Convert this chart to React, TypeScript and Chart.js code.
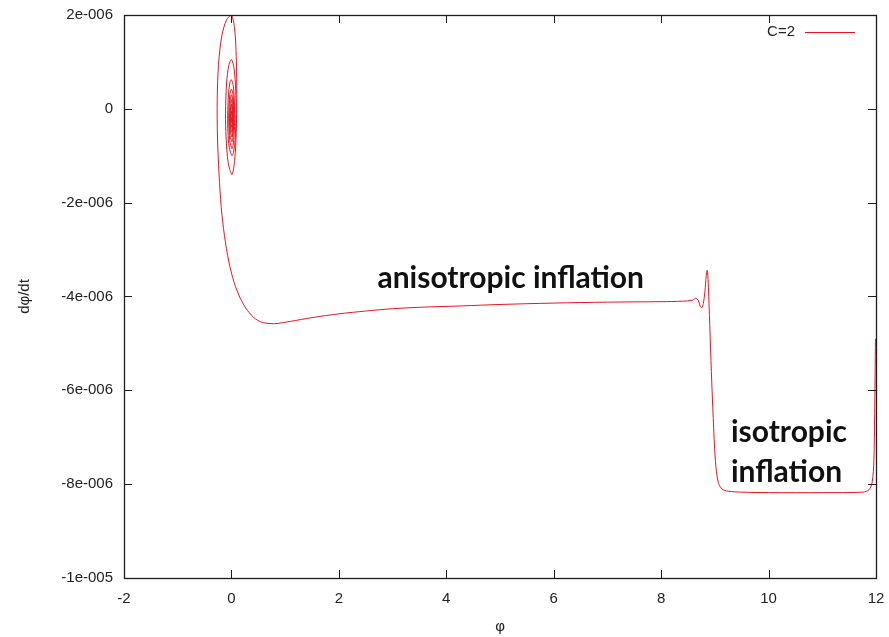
import React, { useEffect, useRef } from "react";
import { Chart, registerables } from "chart.js";

Chart.register(...registerables);

const seriesLabel = "C=2";

// Trajectory in phase space, in time order (phi, dphi/dt)
const phiValues = [
  11.99, 11.975, 11.96, 11.93, 11.87, 11.75, 11.0, 10.0, 9.5, 9.25,
  9.13, 9.06, 9.01, 8.97, 8.935, 8.905, 8.88, 8.865, 8.855, 8.84,
  8.815, 8.785, 8.755, 8.725, 8.69, 8.64, 8.58, 8.4, 8.0, 7.0,
  6.0, 5.0, 4.3, 3.5, 3.0, 2.5, 2.0, 1.5, 1.1, 0.8,
  0.6, 0.45, 0.3, 0.17, 0.05, -0.05, -0.13, -0.19, -0.23, -0.26,
  -0.265, -0.24, -0.18, -0.09, 0.0, 0.06, 0.09, 0.1, 0.09, 0.06,
  0.01, -0.06, -0.1, -0.11, -0.09, -0.05, 0.0, 0.05, 0.08, 0.085,
  0.07, 0.04, 0.01, -0.04, -0.065, -0.07, -0.055, -0.03, 0.0, 0.035,
  0.055, 0.06, 0.05, 0.03, 0.01, -0.03, -0.05, -0.03, 0.0, 0.03,
  0.045, 0.03, 0.01, -0.025, -0.035, -0.02, 0.0, 0.025, 0.035, 0.025,
  0.01, -0.02, -0.025, -0.01, 0.005, 0.02, 0.028, 0.02, 0.01, -0.01,
  -0.015, -0.005, 0.005, 0.015, 0.02, 0.015, 0.008, -0.005, -0.008, 0.003,
  0.012, 0.01, 0.003, 0.005,
];

const dphiValues = [
  -4.9e-6, -6.5e-6, -7.5e-6, -7.95e-6, -8.12e-6, -8.17e-6, -8.18e-6, -8.18e-6, -8.17e-6, -8.15e-6,
  -8.1e-6, -7.95e-6, -7.5e-6, -6.6e-6, -5.6e-6, -4.6e-6, -3.8e-6, -3.48e-6, -3.44e-6, -3.55e-6,
  -3.9e-6, -4.15e-6, -4.24e-6, -4.2e-6, -4.08e-6, -4.04e-6, -4.08e-6, -4.1e-6, -4.11e-6, -4.12e-6,
  -4.14e-6, -4.17e-6, -4.2e-6, -4.23e-6, -4.26e-6, -4.31e-6, -4.37e-6, -4.45e-6, -4.53e-6, -4.58e-6,
  -4.56e-6, -4.48e-6, -4.3e-6, -4.05e-6, -3.7e-6, -3.25e-6, -2.7e-6, -2.1e-6, -1.4e-6, -0.6e-6,
  0.2e-6, 0.95e-6, 1.55e-6, 1.9e-6, 2.0e-6, 1.7e-6, 1.1e-6, 0.3e-6, -0.5e-6, -1.1e-6,
  -1.4e-6, -1.15e-6, -0.6e-6, -0.1e-6, 0.55e-6, 0.92e-6, 1.05e-6, 0.85e-6, 0.4e-6, -0.1e-6,
  -0.65e-6, -0.92e-6, -1.0e-6, -0.82e-6, -0.5e-6, -0.15e-6, 0.3e-6, 0.55e-6, 0.62e-6, 0.48e-6,
  0.15e-6, -0.2e-6, -0.55e-6, -0.78e-6, -0.85e-6, -0.68e-6, -0.2e-6, 0.3e-6, 0.42e-6, 0.3e-6,
  -0.15e-6, -0.58e-6, -0.7e-6, -0.55e-6, -0.2e-6, 0.2e-6, 0.3e-6, 0.18e-6, -0.15e-6, -0.48e-6,
  -0.6e-6, -0.45e-6, -0.2e-6, 0.1e-6, 0.2e-6, 0.05e-6, -0.18e-6, -0.4e-6, -0.5e-6, -0.4e-6,
  -0.2e-6, 0.02e-6, 0.1e-6, -0.02e-6, -0.2e-6, -0.35e-6, -0.4e-6, -0.32e-6, -0.2e-6, -0.05e-6,
  -0.15e-6, -0.3e-6, -0.25e-6, -0.18e-6,
];

const xTickValues = [-2, 0, 2, 4, 6, 8, 10, 12];
const xTickLabels = ["-2", "0", "2", "4", "6", "8", "10", "12"];
const yTickValues = [-1e-5, -8e-6, -6e-6, -4e-6, -2e-6, 0, 2e-6];
const yTickLabels = ["-1e-005", "-8e-006", "-6e-006", "-4e-006", "-2e-006", "0", "2e-006"];

const xTitle = "φ";
const yTitle = "dφ/dt";

const annotationTexts = ["anisotropic inflation", "isotropic", "inflation"];
const annotationPhi = [5.2, 9.3, 9.3];
const annotationDphi = [-3.82e-6, -7.1e-6, -7.95e-6];
const annotationAlign: CanvasTextAlign[] = ["center", "left", "left"];

const LINE_COLOR = "rgb(232, 20, 30)";
const AXIS_COLOR = "#1c1c1c";
const TEXT_COLOR = "#222";
const TICK_FONT = '15px "Liberation Sans", Arial, sans-serif';

const decorPlugin = {
  id: "decor",
  afterDraw(chart: any) {
    const { ctx, chartArea: a, scales } = chart;
    const x = scales.x;
    const y = scales.y;
    ctx.save();
    ctx.strokeStyle = AXIS_COLOR;
    ctx.lineWidth = 1;
    ctx.beginPath();
    const tl = 8;
    xTickValues.forEach((v) => {
      const px = Math.round(x.getPixelForValue(v)) + 0.5;
      ctx.moveTo(px, a.bottom);
      ctx.lineTo(px, a.bottom - tl);
      ctx.moveTo(px, a.top);
      ctx.lineTo(px, a.top + tl);
    });
    yTickValues.forEach((v) => {
      const py = Math.round(y.getPixelForValue(v)) + 0.5;
      ctx.moveTo(a.left, py);
      ctx.lineTo(a.left + tl, py);
      ctx.moveTo(a.right, py);
      ctx.lineTo(a.right - tl, py);
    });
    ctx.stroke();
    ctx.lineWidth = 1.3;
    ctx.strokeRect(
      Math.round(a.left) + 0.5,
      Math.round(a.top) + 0.5,
      Math.round(a.right - a.left),
      Math.round(a.bottom - a.top)
    );

    // legend (gnuplot style: text then line sample)
    const ly = a.top + 17;
    ctx.font = TICK_FONT;
    ctx.fillStyle = TEXT_COLOR;
    ctx.textAlign = "right";
    ctx.textBaseline = "middle";
    ctx.fillText(seriesLabel, a.right - 81, ly);
    ctx.strokeStyle = LINE_COLOR;
    ctx.lineWidth = 1;
    ctx.beginPath();
    ctx.moveTo(a.right - 71, ly + 0.5);
    ctx.lineTo(a.right - 21, ly + 0.5);
    ctx.stroke();

    // annotations
    ctx.font = 'bold 30px Lato, "Open Sans", sans-serif';
    ctx.fillStyle = "#111";
    ctx.textBaseline = "alphabetic";
    annotationTexts.forEach((t, i) => {
      ctx.textAlign = annotationAlign[i];
      ctx.fillText(t, x.getPixelForValue(annotationPhi[i]), y.getPixelForValue(annotationDphi[i]));
    });
    ctx.restore();
  },
};

export default function App() {
  const canvasRef = useRef<HTMLCanvasElement | null>(null);

  useEffect(() => {
    if (!canvasRef.current) return;
    const points = phiValues.map((p, i) => ({ x: p, y: dphiValues[i] }));
    const chart = new Chart(canvasRef.current, {
      type: "scatter",
      data: {
        datasets: [
          {
            label: seriesLabel,
            data: points,
            showLine: true,
            borderColor: LINE_COLOR,
            backgroundColor: LINE_COLOR,
            borderWidth: 1,
            pointRadius: 0,
            pointHoverRadius: 0,
            tension: 0.3,
          },
        ],
      },
      options: {
        responsive: false,
        animation: false,
        layout: { padding: { left: 0, right: 13, top: 15, bottom: 0 } },
        plugins: {
          legend: { display: false },
          tooltip: { enabled: false },
        },
        scales: {
          x: {
            type: "linear",
            position: "bottom",
            min: -2,
            max: 12,
            grid: { display: false, drawTicks: false },
            border: { display: false },
            afterBuildTicks: (scale: any) => {
              scale.ticks = xTickValues.map((v) => ({ value: v }));
            },
            afterFit: (scale: any) => {
              scale.height = 59;
              scale.paddingLeft = 0;
              scale.paddingRight = 0;
            },
            ticks: {
              autoSkip: false,
              maxRotation: 0,
              padding: 12,
              color: TEXT_COLOR,
              font: { family: '"Liberation Sans", Arial, sans-serif', size: 15 },
              callback: (_v: any, i: number) => xTickLabels[i],
            },
            title: {
              display: true,
              text: xTitle,
              color: TEXT_COLOR,
              font: { family: '"Liberation Sans", Arial, sans-serif', size: 15 },
              padding: { top: 0, bottom: 1 },
            },
          },
          y: {
            type: "linear",
            position: "left",
            min: -1e-5,
            max: 2e-6,
            grid: { display: false, drawTicks: false },
            border: { display: false },
            afterBuildTicks: (scale: any) => {
              scale.ticks = yTickValues.map((v) => ({ value: v }));
            },
            afterFit: (scale: any) => {
              scale.width = 124;
              scale.paddingTop = 0;
              scale.paddingBottom = 0;
            },
            ticks: {
              autoSkip: false,
              padding: 11,
              color: TEXT_COLOR,
              font: { family: '"Liberation Sans", Arial, sans-serif', size: 15 },
              callback: (_v: any, i: number) => yTickLabels[i],
            },
            title: {
              display: true,
              text: yTitle,
              color: TEXT_COLOR,
              font: { family: '"Liberation Sans", Arial, sans-serif', size: 15 },
              padding: { top: 16, bottom: 0 },
            },
          },
        },
      },
      plugins: [decorPlugin],
    });
    return () => chart.destroy();
  }, []);

  return (
    <div style={{ position: "fixed", left: 0, top: 0, width: 889, height: 637, background: "#fff" }}>
      <canvas ref={canvasRef} width={889} height={637} />
    </div>
  );
}
